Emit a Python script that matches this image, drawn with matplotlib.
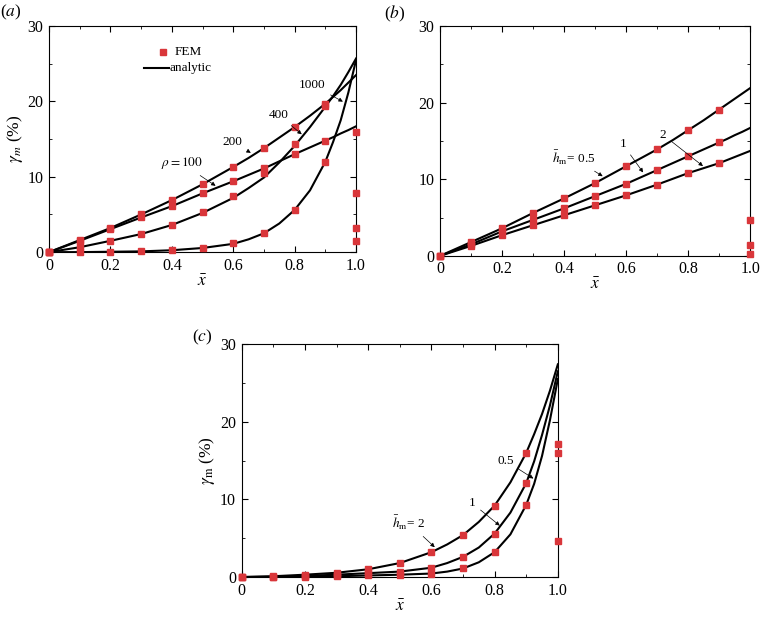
import numpy as np
import matplotlib
matplotlib.use("Agg")
import matplotlib.pyplot as plt
from matplotlib.ticker import MultipleLocator, FixedLocator, FixedFormatter

plt.rcParams['font.family'] = ['Liberation Serif', 'DejaVu Serif']
plt.rcParams['mathtext.fontset'] = 'stix'

# ---- datos ----
x_fem = [0, 0.1, 0.2, 0.3, 0.4, 0.5, 0.6, 0.7, 0.8, 0.9]
x_fine = [0, 0.1, 0.2, 0.3, 0.4, 0.5, 0.6, 0.65, 0.7, 0.75, 0.8, 0.85, 0.9, 0.925, 0.95, 0.975, 1.0]
x_ticks = [0, 0.2, 0.4, 0.6, 0.8, 1.0]
x_ticklabels = ['0', '0.2', '0.4', '0.6', '0.8', '1.0']

# (a) rho = 100, 200, 400, 1000
a_fem_100 = [0, 1.5, 3.05, 4.6, 6.1, 7.8, 9.4, 11.1, 13.0, 14.8]
a_fem_200 = [0, 1.6, 3.2, 5.0, 6.9, 9.0, 11.3, 13.8, 16.6, 19.7]
a_fem_400 = [0, 0.65, 1.5, 2.4, 3.6, 5.3, 7.4, 10.5, 14.3, 19.4]
a_fem_1000 = [0, 0.0, 0.05, 0.1, 0.25, 0.55, 1.15, 2.5, 5.6, 12.0]
a_fem_edge = [16.0, 7.8, 3.2, 1.5]
a_ana_100 = [0, 1.5, 3.05, 4.6, 6.1, 7.8, 9.4, 10.25, 11.1, 12.05, 13.0, 13.9, 14.8, 15.25, 15.75, 16.2, 16.7]
a_ana_200 = [0, 1.6, 3.2, 5.0, 6.9, 9.0, 11.3, 12.5, 13.8, 15.2, 16.6, 18.1, 19.7, 20.6, 21.5, 22.5, 23.5]
a_ana_400 = [0, 0.65, 1.5, 2.4, 3.6, 5.2, 7.2, 8.5, 9.9, 11.9, 14.1, 16.6, 19.3, 20.7, 22.2, 23.9, 25.7]
a_ana_1000 = [0, 0.0, 0.05, 0.1, 0.25, 0.55, 1.1, 1.7, 2.5, 3.8, 5.6, 8.2, 12.0, 14.6, 17.5, 21.2, 25.5]

# (b) h_m = 0.5, 1, 2
b_fem_05 = [0, 1.8, 3.6, 5.6, 7.5, 9.5, 11.7, 13.9, 16.4, 19.1]
b_fem_1 = [0, 1.5, 3.2, 4.7, 6.2, 7.8, 9.4, 11.2, 13.0, 14.8]
b_fem_2 = [0, 1.3, 2.7, 4.0, 5.3, 6.6, 7.9, 9.3, 10.8, 12.1]
b_fem_edge = [4.7, 1.4, 0.3]
b_ana_05 = [0, 1.8, 3.6, 5.6, 7.5, 9.5, 11.7, 12.8, 13.9, 15.1, 16.4, 17.7, 19.1, 19.8, 20.5, 21.2, 21.9]
b_ana_1 = [0, 1.5, 3.2, 4.7, 6.2, 7.8, 9.4, 10.3, 11.2, 12.1, 13.0, 13.9, 14.8, 15.25, 15.75, 16.2, 16.7]
b_ana_2 = [0, 1.3, 2.7, 4.0, 5.3, 6.6, 7.9, 8.6, 9.3, 10.05, 10.8, 11.45, 12.1, 12.5, 12.9, 13.3, 13.7]

# (c) h_m = 2, 1, 0.5
c_fem_2 = [0, 0.1, 0.3, 0.55, 1.0, 1.8, 3.2, 5.4, 9.2, 16.0]
c_fem_1 = [0, 0.05, 0.15, 0.3, 0.5, 0.6, 1.2, 2.6, 5.6, 12.1]
c_fem_05 = [0, 0.0, 0.05, 0.1, 0.2, 0.3, 0.35, 1.1, 3.2, 9.3]
c_fem_edge = [17.2, 16.0, 4.6]
c_ana_2 = [0, 0.1, 0.3, 0.55, 1.0, 1.8, 3.2, 4.2, 5.4, 7.1, 9.2, 12.2, 16.0, 18.4, 21.0, 24.0, 27.4]
c_ana_1 = [0, 0.05, 0.15, 0.3, 0.5, 0.7, 1.2, 1.8, 2.6, 3.8, 5.6, 8.3, 12.1, 14.9, 18.3, 22.1, 26.5]
c_ana_05 = [0, 0.0, 0.05, 0.1, 0.2, 0.3, 0.45, 0.7, 1.1, 1.9, 3.2, 5.5, 9.3, 12.0, 15.6, 20.2, 25.5]

rojo = '#d9363a'
fs = 11.5

def formato(ax):
    ax.set_xlim(0, 1.0)
    ax.set_ylim(0, 30)
    ax.xaxis.set_major_locator(FixedLocator(x_ticks))
    ax.xaxis.set_major_formatter(FixedFormatter(x_ticklabels))
    ax.xaxis.set_minor_locator(MultipleLocator(0.1))
    ax.yaxis.set_major_locator(MultipleLocator(10))
    ax.yaxis.set_minor_locator(MultipleLocator(5))
    ax.tick_params(which='both', direction='in', top=True, right=True, labelsize=fs)
    ax.tick_params(which='major', length=4, pad=4)
    ax.tick_params(which='minor', length=2.5)
    ax.set_xlabel(r'$\bar{x}$', fontsize=fs + 1, labelpad=0)

def curvas(ax, anas, fems, edge):
    for ana in anas:
        ax.plot(x_fine, ana, color='black', lw=1.5, zorder=2)
    for fem in fems:
        ax.plot(x_fem, fem, 's', color=rojo, ms=4, zorder=3, clip_on=False)
    ax.plot([1.0] * len(edge), edge, 's', color=rojo, ms=4, zorder=3, clip_on=False)

def flecha(ax, texto, xy, xytext):
    ax.annotate(texto, xy=xy, xytext=xytext, fontsize=9.5, ha='right', va='center',
                arrowprops=dict(arrowstyle='-|>', color='black', lw=0.5, mutation_scale=6))

fig = plt.figure(figsize=(7.6, 6.21), dpi=100)

# (a)
ax1 = fig.add_axes([0.0645, 0.594, 0.404, 0.364])
curvas(ax1, [a_ana_100, a_ana_200, a_ana_400, a_ana_1000],
       [a_fem_100, a_fem_200, a_fem_400, a_fem_1000], a_fem_edge)
formato(ax1)
ax1.set_ylabel(r'$\gamma_m$ (%)', fontsize=fs + 1, labelpad=2)
flecha(ax1, r'$\rho = 100$', (0.55, 8.6), (0.5, 11.8))
flecha(ax1, '200', (0.665, 13.0), (0.63, 14.6))
flecha(ax1, '400', (0.83, 15.4), (0.78, 18.2))
flecha(ax1, '1000', (0.965, 19.8), (0.9, 22.2))
ax1.plot([0.37], [26.5], 's', color=rojo, ms=4)
ax1.text(0.41, 26.5, 'FEM', fontsize=9.5, va='center')
ax1.plot([0.31, 0.39], [24.5, 24.5], color='black', lw=1.5)
ax1.text(0.393, 24.5, 'analytic', fontsize=9.5, va='center')
fig.text(0.0, 0.98, r'($a$)', fontsize=fs + 1, va='center')

# (b)
ax2 = fig.add_axes([0.579, 0.588, 0.408, 0.370])
curvas(ax2, [b_ana_05, b_ana_1, b_ana_2], [b_fem_05, b_fem_1, b_fem_2], b_fem_edge)
formato(ax2)
flecha(ax2, r'$\bar{h}_{\rm m}$= 0.5', (0.532, 10.2), (0.5, 12.8))
flecha(ax2, '1', (0.66, 10.6), (0.6, 14.6))
flecha(ax2, '2', (0.855, 11.5), (0.73, 15.8))
fig.text(0.505, 0.977, r'($b$)', fontsize=fs + 1, va='center')

# (c)
ax3 = fig.add_axes([0.318, 0.0708, 0.416, 0.375])
curvas(ax3, [c_ana_2, c_ana_1, c_ana_05], [c_fem_2, c_fem_1, c_fem_05], c_fem_edge)
formato(ax3)
ax3.set_ylabel(r'$\gamma_{\rm m}$ (%)', fontsize=fs + 1, labelpad=2)
flecha(ax3, r'$\bar{h}_{\rm m}$= 2', (0.617, 3.6), (0.58, 7.0))
flecha(ax3, '1', (0.823, 6.4), (0.74, 9.5))
flecha(ax3, '0.5', (0.93, 12.5), (0.86, 15.0))
fig.text(0.253, 0.457, r'($c$)', fontsize=fs + 1, va='center')

plt.savefig('out.png', dpi=100)
